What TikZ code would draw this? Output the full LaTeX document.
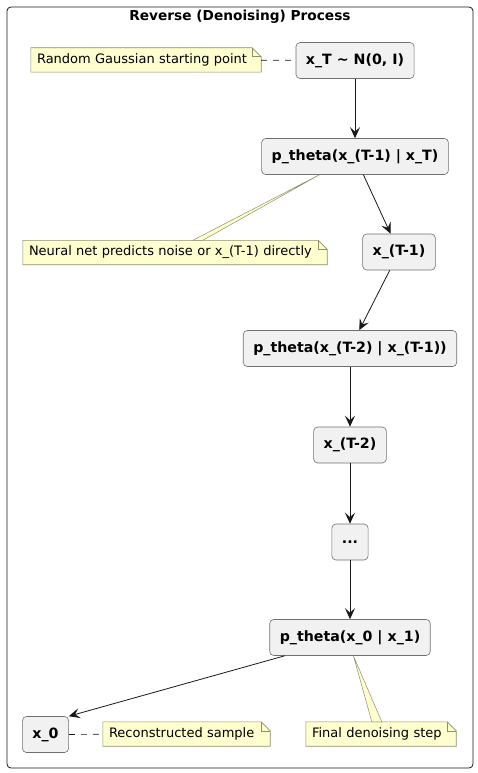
\documentclass[tikz,border=0pt]{standalone}
\usepackage{fontspec}
\setmainfont{DejaVu Sans}
\usetikzlibrary{arrows.meta,positioning,calc,backgrounds}
\definecolor{dnInk}     {HTML}{181818}
\definecolor{dnEdge}    {HTML}{707070}
\definecolor{dnBox}     {HTML}{F1F1F1}
\definecolor{dnNote}    {HTML}{FEFECE}
\definecolor{dnNoteEdge}{HTML}{8F8F6E}
% folded-corner outline of a note, drawn behind its text
\newcommand{\dogear}[1]{%
  \begin{scope}[on background layer]
    \filldraw[fill=dnNote,draw=dnNoteEdge,line width=0.6pt]
      (#1.south west) -- (#1.north west) -- ([xshift=-9pt]#1.north east)
      -- ([yshift=-9pt]#1.north east) -- (#1.south east) -- cycle;
    \draw[dnNoteEdge,line width=0.6pt]
      ([xshift=-9pt]#1.north east) |- ([yshift=-9pt]#1.north east);
  \end{scope}}

\begin{document}
\begin{tikzpicture}[x=1pt,y=-1pt,
    stepbox/.style={draw=dnEdge,fill=dnBox,rounded corners=4pt,line width=0.6pt,
      minimum height=36pt,inner xsep=10pt,font=\fontsize{14.2}{17}\selectfont\bfseries},
    notebox/.style={minimum height=24pt,inner xsep=6pt,inner ysep=0pt,align=left,
      font=\fontsize{13}{15}\selectfont},
    flow/.style={-{Stealth[length=11pt,width=10pt,inset=4.5pt]},dnInk,line width=0.8pt},
    tether/.style={dnInk,line width=0.7pt,dash pattern=on 6pt off 6pt},
    wedge/.style={fill=dnNote,draw=dnNoteEdge,line width=0.5pt}]
  \useasboundingbox (0,0) rectangle (478,773);
  \draw[dnInk,line width=0.8pt,rounded corners=4pt] (7,7) rectangle (473,768);
  \node[font=\fontsize{13.7}{16}\selectfont\bfseries] (title) at (240,17)
    {Reverse (Denoising) Process};

  \node[stepbox] (xT)    at (355,60.5)  {x\_T \char`\~{} N(0, I)};
  \node[stepbox] (p1)    at (355,156.5) {p\_theta(x\_(T-1) | x\_T)};
  \node[stepbox] (xTm1)  at (399,252)   {x\_(T-1)};
  \node[stepbox] (p2)    at (350,348.5) {p\_theta(x\_(T-2) | x\_(T-1))};
  \node[stepbox] (xTm2)  at (350,445)   {x\_(T-2)};
  \node[stepbox] (dots)  at (350,542)   {...};
  \node[stepbox] (p3)    at (350,637.5) {p\_theta(x\_0 | x\_1)};
  \node[stepbox] (x0)    at (45.5,734.5) {x\_0};

  \node[notebox,text width=218pt] (nStart) at (146,60)
    {Random Gaussian starting point};
  \node[notebox,text width=292pt] (nNet) at (175,252.5)
    {Neural net predicts noise or x\_(T-1) directly};
  \node[notebox,text width=155pt] (nRec) at (186.5,734)
    {Reconstructed sample};
  \node[notebox,text width=138pt] (nFinal) at (381,734)
    {Final denoising step};

  \dogear{nStart}
  \dogear{nNet}
  \dogear{nRec}
  \dogear{nFinal}

  % note tethers
  \draw[tether] (nStart) -- (xT);
  \draw[tether] (x0) -- (nRec);
  \begin{scope}[on background layer]
    \filldraw[wedge] ($(p1.south west)+(58,0)$) -- ($(nNet.north west)+(170,0)$)
      -- ($(nNet.north west)+(180,0)$) -- cycle;
    \filldraw[wedge] ($(p3.south west)+(84,0)$) -- ($(nFinal.north west)+(66,0)$)
      -- ($(nFinal.north west)+(76,0)$) -- cycle;
  \end{scope}

  \draw[flow] (xT) -- (p1);
  \draw[flow] (p1) -- (xTm1);
  \draw[flow] (xTm1) -- (p2);
  \draw[flow] (p2) -- (xTm2);
  \draw[flow] (xTm2) -- (dots);
  \draw[flow] (dots) -- (p3);
  \draw[flow] (p3) -- (x0.north east);
\end{tikzpicture}
\end{document}
